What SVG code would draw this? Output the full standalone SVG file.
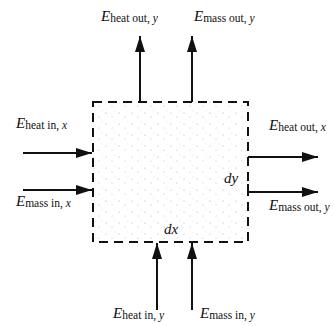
<svg xmlns="http://www.w3.org/2000/svg" width="334" height="326" viewBox="0 0 334 326">
<style>
.lbl{font-family:"Liberation Serif","Times New Roman",serif;fill:#111}
.E{font-style:italic;font-size:15px}
.s{font-size:11.5px}
.v{font-style:italic}
.ar{stroke:#111;stroke-width:2;fill:none}
</style>
<defs>
<marker id="ah" viewBox="0 0 16 10" refX="16" refY="5" markerWidth="16" markerHeight="10" markerUnits="userSpaceOnUse" orient="auto">
<path d="M0,0 L16,5 L0,10 Z" fill="#111"/>
</marker>
<pattern id="dots" width="13" height="11" patternUnits="userSpaceOnUse">
<circle cx="2" cy="3" r="0.5" fill="#999"/>
<circle cx="8" cy="7" r="0.5" fill="#aaa"/>
<circle cx="11" cy="1" r="0.4" fill="#bbb"/>
</pattern>
</defs>
<rect width="334" height="326" fill="#fff"/>
<g id="volume">
<rect x="93" y="102" width="155" height="140" fill="url(#dots)"/>
<rect x="93" y="102" width="155" height="140" fill="none" stroke="#111" stroke-width="2" stroke-dasharray="9 6"/>
<text class="lbl" x="224" y="183" font-style="italic" font-size="15">dy</text>
<text class="lbl" x="164" y="234" font-style="italic" font-size="15">dx</text>
</g>
<g id="connectors">
<line class="ar" x1="140" y1="102" x2="140" y2="36" marker-end="url(#ah)"/>
<line class="ar" x1="192" y1="102" x2="192" y2="36" marker-end="url(#ah)"/>
<line class="ar" x1="157" y1="310" x2="157" y2="243" marker-end="url(#ah)"/>
<line class="ar" x1="192" y1="310" x2="192" y2="243" marker-end="url(#ah)"/>
<line class="ar" x1="23" y1="153" x2="92" y2="153" marker-end="url(#ah)"/>
<line class="ar" x1="23" y1="190" x2="92" y2="190" marker-end="url(#ah)"/>
<line class="ar" x1="248" y1="157" x2="318" y2="157" marker-end="url(#ah)"/>
<path class="ar" d="M248,184 V192 H318" marker-end="url(#ah)"/>
</g>
<g id="heat-out-y"><text class="lbl" x="101" y="21"><tspan class="E">E</tspan><tspan class="s" dy="1">heat out, </tspan><tspan class="s v">y</tspan></text></g>
<g id="mass-out-y"><text class="lbl" x="194" y="21"><tspan class="E">E</tspan><tspan class="s" dy="1">mass out, </tspan><tspan class="s v">y</tspan></text></g>
<g id="heat-in-x"><text class="lbl" x="16" y="128"><tspan class="E">E</tspan><tspan class="s" dy="1">heat in, </tspan><tspan class="s v">x</tspan></text></g>
<g id="mass-in-x"><text class="lbl" x="16" y="206"><tspan class="E">E</tspan><tspan class="s" dy="1">mass in, </tspan><tspan class="s v">x</tspan></text></g>
<g id="heat-out-x"><text class="lbl" x="269" y="130"><tspan class="E">E</tspan><tspan class="s" dy="1">heat out, </tspan><tspan class="s v">x</tspan></text></g>
<g id="mass-out-y2"><text class="lbl" x="269" y="210"><tspan class="E">E</tspan><tspan class="s" dy="1">mass out, </tspan><tspan class="s v">y</tspan></text></g>
<g id="heat-in-y"><text class="lbl" x="113" y="318"><tspan class="E">E</tspan><tspan class="s" dy="1">heat in, </tspan><tspan class="s v">y</tspan></text></g>
<g id="mass-in-y"><text class="lbl" x="200" y="318"><tspan class="E">E</tspan><tspan class="s" dy="1">mass in, </tspan><tspan class="s v">y</tspan></text></g>
</svg>
